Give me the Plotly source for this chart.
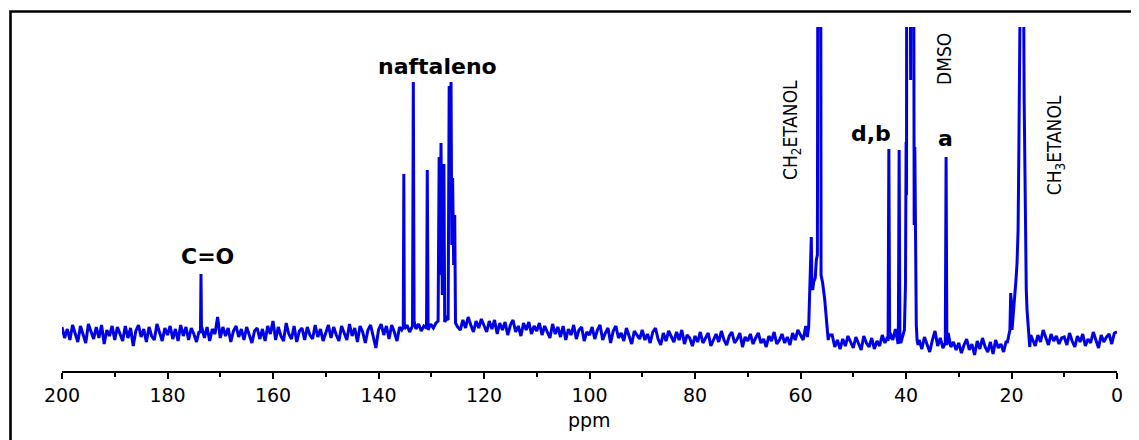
import plotly.graph_objects as go

# ---------------- data ----------------
# baseline / noise trace, 200 ppm -> 0 ppm every 0.5 ppm (relative intensity)
base_start, base_step = 200.0, 0.5
baseline_blocks = [
    [8, -3, 6, -5, 10, 1, -7, 9, 0, -8, 11, 3, -4, 8, -3, 10, -9, 5, -1, 9],          # 200-190.5
    [-5, 8, 0, -6, 9, -3, 7, -11, 4, 10, -2, 6, -7, 8, -1, -5, 11, 2, -6, 7],         # 190-180.5
    [0, 9, -4, 6, -6, 10, -1, 8, -5, 7, 1, -7, 4, 8, -3, 8, -6, 6, 1, 18],            # 180-170.5
    [-3, 8, -1, 7, -7, 4, 9, -2, 6, -5, 8, 0, -8, 4, 7, -4, 6, -6, 9, 1],             # 170-160.5
    [14, -5, 8, -1, -6, 12, 1, -4, 9, -7, 4, 7, -5, 8, 0, -4, 10, -2, 6, -6],         # 160-150.5
    [3, 10, -3, 8, 0, -6, 9, 2, -5, 11, -1, 7, -7, 9, 3, -8, 5, 10, -2, -13],         # 150-140.5
    [5, 11, 0, 9, -4, 10, 3, -6, 8, 12, 1, 10, -2, 13, 4, 11, -3, 9, 14, 3],          # 140-130.5
    [9, 15, 4, 12, 2, 14, 6, 13, 3, 16, 8, 5, 15, 7, 18, 10, 3, 14, 7, 16],           # 130-120.5
    [10, 3, 14, 6, 15, 1, 12, 5, 13, 0, 10, 15, 3, 9, -1, 12, 5, 13, 1, 9],           # 120-110.5
    [4, 12, 0, 9, 3, -3, 11, 1, 8, -2, 9, -5, 6, 0, 10, -4, 5, 8, -6, 3],             # 110-100.5
    [0, 8, -4, 5, 10, -5, 2, 7, -8, 4, 9, -3, 2, -6, 7, -1, -9, 4, 0, -4],            # 100-90.5
    [5, -5, 1, -8, 3, 7, -4, -10, 2, -6, 4, -2, -7, 3, -5, 5, -9, 0, -3, -11],        # 90-80.5
    [-1, -7, 3, -8, -3, 2, -11, -4, 1, -7, 4, -5, -10, -1, 3, -8, -4, 2, -12, -2],    # 80-70.5
    [-6, 1, -9, -3, 2, -8, -4, -12, -1, -6, 3, -9, -5, 1, -8, -2, -10, 2, -5, 5],     # 70-60.5
    [0, -5, 9, 2, -4, 6, 0, 0, 0, 0, 0, 0, 0, -12, -5, -14, -4, -11, -1, -7],         # 60-50.5
    [-13, -2, -9, -15, -1, -8, -12, -3, -14, -6, -11, 0, -8, -2, 2, -5, 6, -9, -1, 0],   # 50-40.5
    [0, 0, 0, 0, 0, -5, -14, -2, -9, -17, -5, 4, -11, -3, -13, -6, 2, -12, -7, -15],     # 40-30.5
    [-8, -18, -10, -4, -15, -9, -20, -6, -14, -3, -12, -17, -7, -19, -5, -13, -9, -17, -6, -11],  # 30-20.5
    [0, 0, 0, 0, 0, 0, 0, 0, -4, -11, 0, -7, 5, -3, -10, 1, -6, -1, -9, -3],         # 20-10.5
    [-2, -10, 2, -6, -12, -1, -7, 1, -11, -4, -8, 3, -6, -13, 0, -7, -2, 1, -9, 2],   # 10-0.5
    [3],                                                                              # 0
]

# peak regions: (ppm, intensity) points
peak_co = [(173.75, 2), (173.65, 61), (173.55, 3)]
peak_naftaleno = [
    (135.6, 5), (135.3, 8), (135.2, 161), (135.1, 6), (134.6, 10), (134.1, 3),
    (133.55, 9), (133.4, 253), (133.25, 14), (132.9, 6), (132.4, 11), (131.9, 4),
    (131.4, 9), (130.9, 7), (130.75, 165), (130.6, 5), (130.1, 11), (129.6, 7),
    (129.1, 12), (128.7, 14), (128.5, 178), (128.33, 60), (128.15, 192), (127.9, 40),
    (127.6, 171), (127.45, 13), (127.1, 17), (126.8, 15), (126.6, 249), (126.43, 150),
    (126.25, 253), (126.1, 90), (125.95, 157), (125.75, 70), (125.55, 120), (125.4, 12),
    (125.1, 8),
]
peak_ch2_etanol = [
    (58.7, -2), (58.45, 8), (58.3, 35), (58.1, 50), (57.95, 98), (57.85, 55),
    (57.7, 45), (57.5, 53), (57.2, 57), (57.0, 75), (56.8, 80), (56.65, 600),
    (56.2, 600), (56.1, 60), (55.8, 52), (55.4, 35), (55.05, 15), (54.75, -5),
    (54.55, 0),
]
peak_d = [(43.4, -6), (43.25, 186), (43.1, -4)]
peak_b = [(41.45, -2), (41.3, 185), (41.15, 0)]
peak_dmso = [
    (41.0, -8), (40.6, 0), (40.3, 5), (40.1, 50), (39.98, 193), (39.9, 140),
    (39.85, 600), (39.3, 600), (39.12, 255), (38.95, 600), (38.6, 600), (38.45, 110),
    (38.33, 188), (38.2, 60), (38.05, 10), (37.9, -5), (37.7, -10),
]
peak_a = [(32.55, -8), (32.4, 178), (32.25, -10)]
peak_ch3_etanol = [
    (20.8, -8), (20.5, 0), (20.3, 5), (20.15, 42), (20.05, 35), (19.9, 5),
    (19.7, 17), (19.4, 35), (19.15, 55), (18.95, 72), (18.75, 105), (18.6, 188),
    (18.35, 600), (17.95, 600), (17.6, 235), (17.4, 90), (17.2, 45), (17.05, 25),
    (16.8, 5), (16.55, -12), (16.35, 0),
]
peak_regions = [peak_co, peak_naftaleno, peak_ch2_etanol, peak_d, peak_b,
                peak_dmso, peak_a, peak_ch3_etanol]

x_ticks = [200, 180, 160, 140, 120, 100, 80, 60, 40, 20, 0]
x_title = "ppm"

# ---------------- assemble the trace ----------------
base_vals = [v for block in baseline_blocks for v in block]
base_ppm = [base_start - i * base_step for i in range(len(base_vals))]

points = []
for p, v in zip(base_ppm, base_vals):
    inside = any(min(q for q, _ in seg) <= p <= max(q for q, _ in seg) for seg in peak_regions)
    if not inside:
        points.append((p, v))
for seg in peak_regions:
    points.extend(seg)
points.sort(key=lambda t: -t[0])
xs = [p for p, _ in points]
ys = [v for _, v in points]

fig = go.Figure()
fig.add_trace(go.Scatter(x=xs, y=ys, mode="lines",
                         line=dict(color="#0000E6", width=3),
                         hoverinfo="skip", showlegend=False))

# page has an 8px body margin: figure drawn from (8, 8)
OFF = 8
W, H = 1139 - OFF, 440 - OFF
L, R, T, B = 62 - OFF, 22, 27 - OFF, 69
pw, ph = W - L - R, H - T - B

def px_x(x):   # x in page pixels -> paper
    return (x - OFF - L) / pw

def px_y(y):   # y in page pixels -> paper
    return (H - B - (y - OFF)) / ph

bold = dict(family="DejaVu Sans", size=22, color="black", weight="bold")
narrow = dict(family="Liberation Sans Narrow, Arial Narrow, DejaVu Sans Condensed, sans-serif",
              size=19, color="black")

annots = [
    dict(text="C=O", x=172.5, y=79, font=bold, textangle=0),
    dict(text="naftaleno", x=128.8, y=269, font=bold, textangle=0),
    dict(text="d,b", x=46.6, y=202, font=bold, textangle=0),
    dict(text="a", x=32.6, y=197, font=bold, textangle=0),
    dict(text="CH<sub>2</sub>ETANOL", x=61.8, y=205, font=narrow, textangle=-90),
    dict(text="DMSO", x=32.8, y=276, font=narrow, textangle=-90),
    dict(text="CH<sub>3</sub>ETANOL", x=11.7, y=190, font=narrow, textangle=-90),
]
for a in annots:
    fig.add_annotation(xref="x", yref="y", showarrow=False,
                       xanchor="center", yanchor="middle", **a)

fig.add_annotation(text=x_title, xref="paper", yref="paper", x=0.5, y=px_y(420),
                   showarrow=False, xanchor="center", yanchor="middle",
                   font=dict(family="DejaVu Sans", size=19, color="black"))

# outer frame (cropped by the picture edge on the right and bottom)
fig.add_shape(type="rect", xref="paper", yref="paper",
              x0=px_x(10.5), x1=px_x(1160), y0=px_y(11.5), y1=px_y(460),
              line=dict(color="black", width=2.6), fillcolor="rgba(0,0,0,0)")

fig.update_layout(
    width=W, height=H,
    margin=dict(l=L, r=R, t=T, b=B),
    paper_bgcolor="white", plot_bgcolor="white",
    showlegend=False,
    xaxis=dict(range=[200, 0], tickvals=x_ticks, ticktext=[str(t) for t in x_ticks],
               showgrid=False, zeroline=False, showline=True, linecolor="black",
               linewidth=2, ticks="outside", ticklen=6, tickwidth=2, tickcolor="black",
               tickfont=dict(family="DejaVu Sans", size=19, color="black"),
               minor=dict(dtick=10, ticks="outside", ticklen=4, tickwidth=2,
                          tickcolor="black", showgrid=False)),
    yaxis=dict(range=[-36, 308], visible=False, showgrid=False, zeroline=False),
)

fig.write_html("out.html")
